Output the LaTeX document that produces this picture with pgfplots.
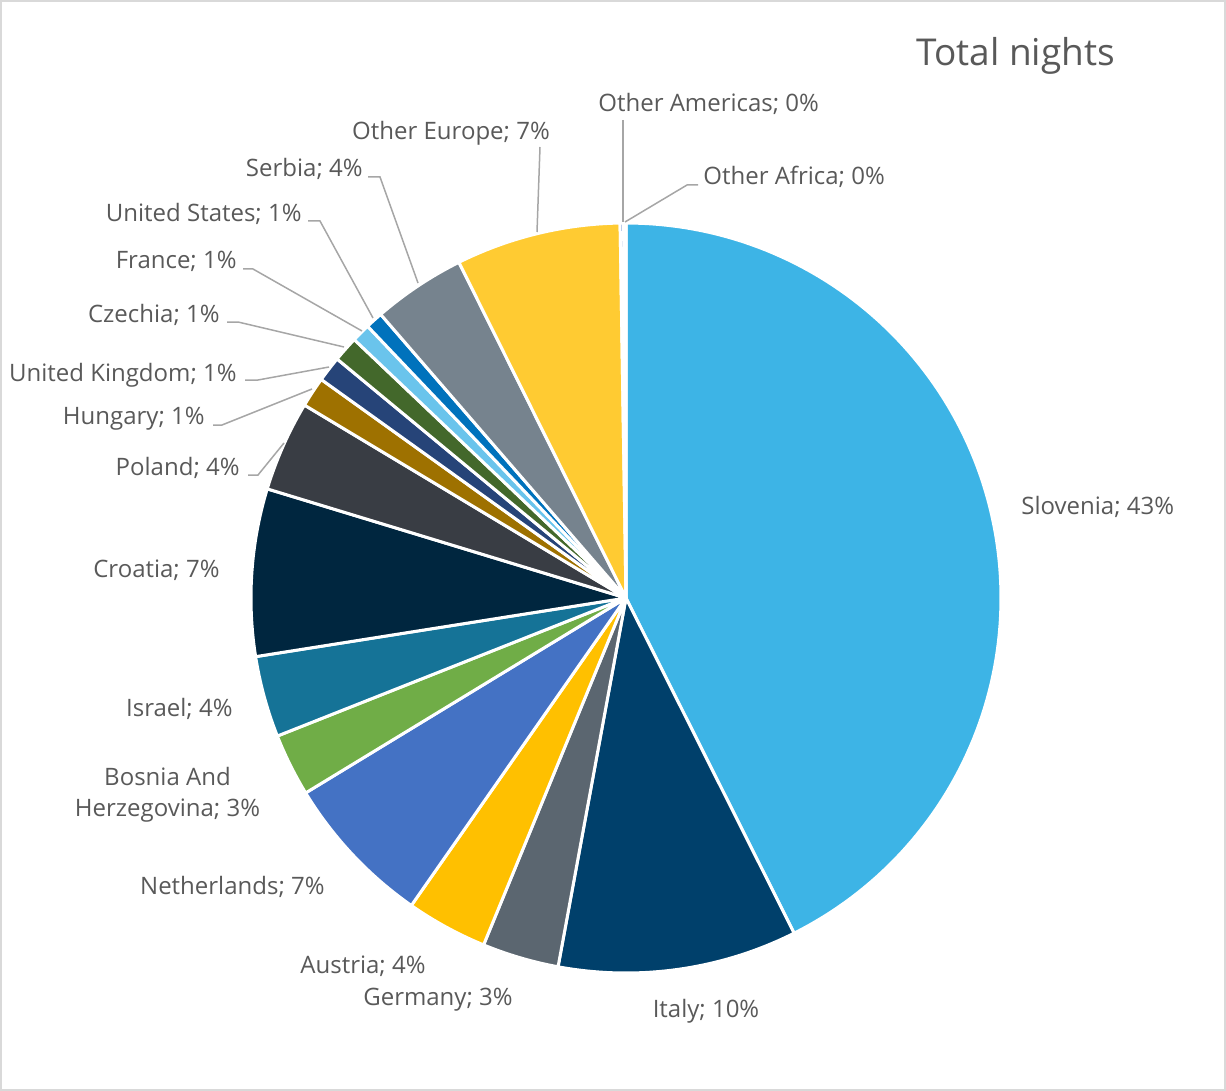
\documentclass[border=0pt]{standalone}
\usepackage{pgfplots}
\pgfplotsset{compat=1.18}
\usepackage{fontspec}
\setmainfont{Open Sans}
\definecolor{txt}{HTML}{595959}
\definecolor{lead}{HTML}{A6A6A6}
\definecolor{frame}{HTML}{D9D9D9}
\definecolor{cSlovenia}{HTML}{3DB4E6}
\definecolor{cItaly}{HTML}{00406B}
\definecolor{cGermany}{HTML}{5B6670}
\definecolor{cAustria}{HTML}{FFC000}
\definecolor{cNetherlands}{HTML}{4472C4}
\definecolor{cBosnia}{HTML}{70AD47}
\definecolor{cIsrael}{HTML}{157397}
\definecolor{cCroatia}{HTML}{00263F}
\definecolor{cPoland}{HTML}{393D44}
\definecolor{cHungary}{HTML}{9E7100}
\definecolor{cUK}{HTML}{264478}
\definecolor{cCzechia}{HTML}{43682B}
\definecolor{cFrance}{HTML}{6AC4EC}
\definecolor{cUS}{HTML}{0072BC}
\definecolor{cSerbia}{HTML}{76838E}
\definecolor{cOEurope}{HTML}{FFCB32}
\definecolor{cOAmericas}{HTML}{4472C4}
\definecolor{cOAfrica}{HTML}{9DC3E6}
\tikzset{lbl/.style={font=\fontsize{12}{14}\selectfont, text=txt, inner sep=0pt}}
% slice: #1 cumulative share before (percent), #2 share (percent), #3 colour
\newcommand\slice[3]{%
  \addplot[draw=white, line width=1.5pt, line join=round, fill=#3,
    domain={90-3.6*(#1+#2)}:{90-3.6*(#1)}, samples=120, variable=\t]
    ({626+375*cos(\t)},{598-375*sin(\t)}) -- (axis cs:626,598) -- cycle;}
\begin{document}
\begin{tikzpicture}
\begin{axis}[scale only axis, width=613pt, height=545.5pt,
  xmin=0, xmax=1226, ymin=0, ymax=1091, y dir=reverse,
  hide axis, clip=false]
\path (axis cs:0,0) rectangle (axis cs:1226,1091);
\draw[frame, line width=1pt] (axis cs:1,1) rectangle (axis cs:1225,1090);
% shares (percent), clockwise from 12 o'clock
\slice{0}{42.6}{cSlovenia}
\slice{42.6}{10.3}{cItaly}
\slice{52.9}{3.3}{cGermany}
\slice{56.2}{3.5}{cAustria}
\slice{59.7}{6.6}{cNetherlands}
\slice{66.3}{2.7}{cBosnia}
\slice{69.0}{3.5}{cIsrael}
\slice{72.5}{7.2}{cCroatia}
\slice{79.7}{3.9}{cPoland}
\slice{83.6}{1.3}{cHungary}
\slice{84.9}{1.1}{cUK}
\slice{86.0}{1.1}{cCzechia}
\slice{87.1}{0.8}{cFrance}
\slice{87.9}{0.75}{cUS}
\slice{88.65}{4.0}{cSerbia}
\slice{92.65}{7.1}{cOEurope}
\slice{99.75}{0.15}{cOAmericas}
\slice{99.9}{0.1}{cOAfrica}
% leader lines
\draw[lead, line width=0.75pt] (axis cs:623,120) -- (axis cs:623,222);
\draw[lead, line width=0.75pt] (axis cs:625,222) -- (axis cs:687,185) -- (axis cs:698,185);
\draw[lead, line width=0.75pt] (axis cs:540,147) -- (axis cs:537,232);
\draw[lead, line width=0.75pt] (axis cs:368,177) -- (axis cs:380,177) -- (axis cs:418,283);
\draw[lead, line width=0.75pt] (axis cs:308,221) -- (axis cs:320,221) -- (axis cs:373,318);
\draw[lead, line width=0.75pt] (axis cs:243,269) -- (axis cs:253,269) -- (axis cs:362,331);
\draw[lead, line width=0.75pt] (axis cs:227,322) -- (axis cs:238,322) -- (axis cs:344,347);
\draw[lead, line width=0.75pt] (axis cs:245,380) -- (axis cs:258,380) -- (axis cs:329,367);
\draw[lead, line width=0.75pt] (axis cs:213,425) -- (axis cs:222,425) -- (axis cs:312,389);
\draw[lead, line width=0.75pt] (axis cs:248,475) -- (axis cs:258,475) -- (axis cs:284,443);
% labels
\node[anchor=base west, inner sep=0pt, font=\fontsize{18.5}{22}\selectfont] at (axis cs:916,66) {\textcolor{txt}{Total nights}};
\node[lbl, anchor=base west] at (axis cs:1021,514) {Slovenia; 43\%};
\node[lbl, anchor=base] at (axis cs:706,1017) {Italy; 10\%};
\node[lbl, anchor=base] at (axis cs:438,1005) {Germany; 3\%};
\node[lbl, anchor=base] at (axis cs:363,973) {Austria; 4\%};
\node[lbl, anchor=base east] at (axis cs:325,894) {Netherlands; 7\%};
\node[lbl, anchor=base] at (axis cs:167.5,785) {Bosnia And};
\node[lbl, anchor=base] at (axis cs:167.5,816) {Herzegovina; 3\%};
\node[lbl, anchor=base east] at (axis cs:233,716) {Israel; 4\%};
\node[lbl, anchor=base east] at (axis cs:220,577) {Croatia; 7\%};
\node[lbl, anchor=base east] at (axis cs:240,475) {Poland; 4\%};
\node[lbl, anchor=base east] at (axis cs:205,424) {Hungary; 1\%};
\node[lbl, anchor=base east] at (axis cs:237,381) {United Kingdom; 1\%};
\node[lbl, anchor=base east] at (axis cs:220,322) {Czechia; 1\%};
\node[lbl, anchor=base east] at (axis cs:237,269) {France; 1\%};
\node[lbl, anchor=base east] at (axis cs:302,222) {United States; 1\%};
\node[lbl, anchor=base east] at (axis cs:363,177) {Serbia; 4\%};
\node[lbl, anchor=base] at (axis cs:451,140) {Other Europe; 7\%};
\node[lbl, anchor=base west] at (axis cs:598,112) {Other Americas; 0\%};
\node[lbl, anchor=base west] at (axis cs:703,185) {Other Africa; 0\%};
\end{axis}
\end{tikzpicture}
\end{document}
